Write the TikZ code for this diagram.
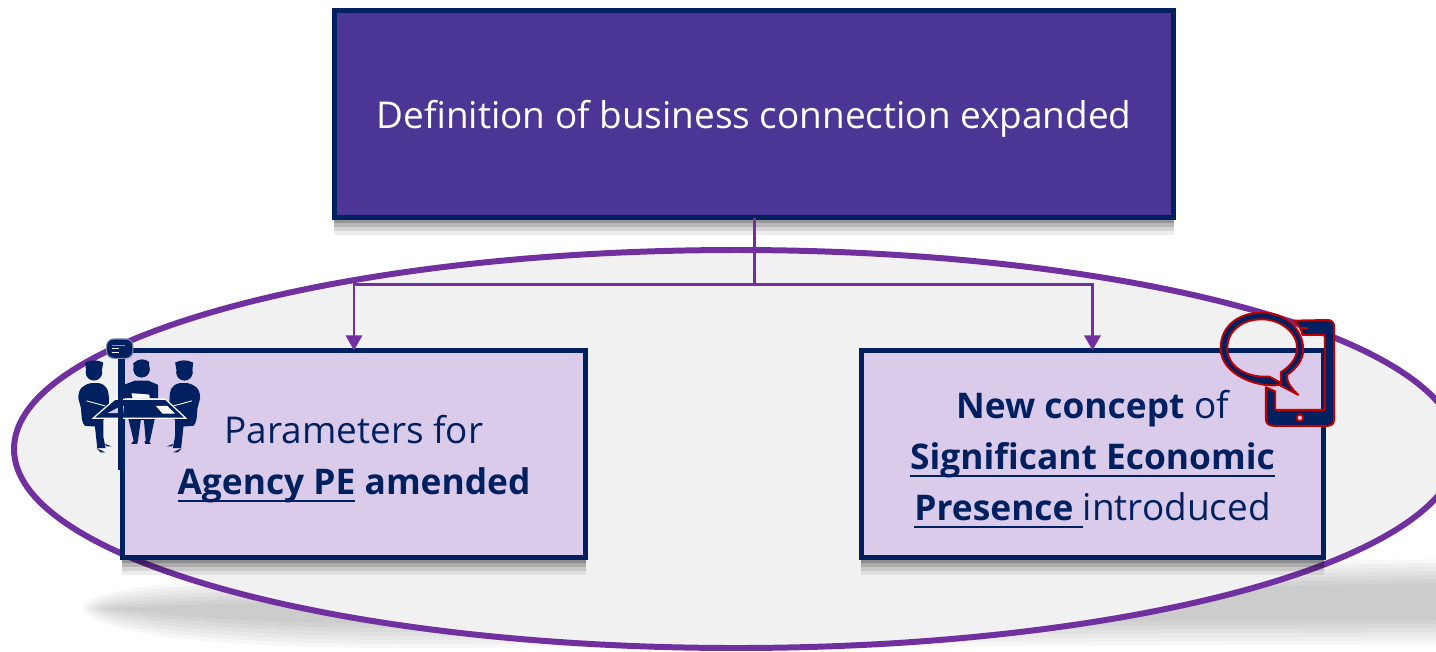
\documentclass[tikz,border=0pt]{standalone}
\usepackage{fontspec}
\setmainfont{Open Sans}
\usepackage{xcolor}
\usetikzlibrary{arrows.meta, shadows, positioning}
\definecolor{navy}{HTML}{002060}
\definecolor{rimpurple}{HTML}{7030A0}
\definecolor{topfill}{HTML}{4B3695}
\definecolor{lilac}{HTML}{DBCBEA}
\definecolor{iconred}{HTML}{C00000}
\definecolor{ovalfill}{HTML}{F1F1F1}
\tikzset{
    softshadow/.style={
        general shadow={fill=black,opacity=.07,shadow yshift=-.17cm},
        general shadow={fill=black,opacity=.10,shadow yshift=-.13cm},
        general shadow={fill=black,opacity=.14,shadow yshift=-.09cm},
        general shadow={fill=black,opacity=.18,shadow yshift=-.05cm}},
    mainbox/.style={draw=navy, line width=1.4pt, outer sep=0pt, align=center, softshadow,
        font=\fontsize{10.5}{14.5}\selectfont},
    linkline/.style={draw=rimpurple, line width=.85pt},
    figure/.style={fill=navy, draw=none}
}
\newcommand{\lowline}[1]{{\sbox0{#1}\rlap{\rule[-2.2pt]{\wd0}{.65pt}}\usebox0}}
\newcommand{\heavy}[1]{{\fontsize{10.05}{14.5}\selectfont\bfseries #1}}
\newcommand{\dropped}[1]{\raisebox{-1.4pt}[\height][\depth]{#1}}
\newcommand{\sidesitter}{
    \fill[figure] (102,157) circle (25);
    \fill[figure] (76,128) .. controls (95,118) and (115,120) .. (130,128) -- (126,150) -- (78,150) -- cycle;
    \fill[figure] (55,235) .. controls (55,205) and (70,195) .. (92,190) -- (118,190)
        .. controls (140,195) and (147,210) .. (147,240) -- (147,290) -- (130,300) -- (130,350) -- (137,385)
        -- (112,385) -- (105,320) -- (75,318) .. controls (65,310) and (65,290) .. (63,265) -- cycle;
    \fill[figure] (110,385) -- (137,398) -- (122,398) -- cycle;
    \fill[figure] (135,372) -- (156,380) -- (140,380) -- cycle;
    \draw[white, line width=.25pt] (80,243) -- (135,258);
}
\begin{document}
\begin{tikzpicture}[x=0.01cm, y=-0.01cm]
    \clip (0,0) rectangle (1436,651);
    % shadow under the oval
    \foreach \g in {0,4,8,12,16,20,24} {
        \fill[black, opacity=.032] (82+\g,608) .. controls (90+\g,585+\g) and (200,578+\g) .. (400,576+\g)
            -- (1500,558+\g) -- (1500,644-\g) -- (400,648-\g) .. controls (200,648-\g) and (90+\g,632-\g) .. (82+\g,608) -- cycle;
    }
    \draw[draw=rimpurple, fill=ovalfill, line width=1.7pt] (736,449) ellipse (722 and 199);

    \node[mainbox, fill=topfill, text=white, minimum width=8.39cm, minimum height=2.07cm] (defbox) at (754, 114) {\dropped{Definition of business connection expanded}};
    \node[mainbox, fill=lilac, text=navy, minimum width=4.63cm, minimum height=2.07cm] (agencybox) at (354, 454) {\dropped{\begin{tabular}{@{}c@{}}Parameters for\\\heavy{\lowline{Agency PE} amended}\end{tabular}}};
    \node[mainbox, fill=lilac, text=navy, minimum width=4.62cm, minimum height=2.07cm] (secbox) at (1092.5, 454) {\dropped{\begin{tabular}{@{}c@{}}\heavy{New concept} of\\\heavy{\lowline{Significant Economic}}\\\heavy{\lowline{Presence }}introduced\end{tabular}}};

    \coordinate (split) at (754, 284);
    \draw[linkline] (defbox.south) -- (split);
    \draw[linkline, -{Stealth[length=.15cm, width=.16cm, inset=0pt]}] (split) -| (agencybox.north);
    \draw[linkline, -{Stealth[length=.15cm, width=.16cm, inset=0pt]}] (split) -| (secbox.north);

    % people at the table
    \begin{scope}[shift={(60,320)}, x=0.003333cm, y=-0.003333cm]
        \sidesitter
        \begin{scope}[shift={(476,0)}, xscale=-1]
            \sidesitter
        \end{scope}
        \fill[figure] (245,148) circle (25);
        \fill[figure] (220,130) .. controls (235,115) and (255,115) .. (268,126) -- (268,145) -- (222,145) -- cycle;
        \fill[figure] (190,235) -- (192,195) -- (225,182) -- (265,182) -- (295,195) -- (295,235) -- cycle;
        \fill[figure] (205,295) -- (222,365) -- (234,365) -- (243,300) -- (252,300) -- (258,365) -- (270,365) -- (285,295) -- cycle;
        \fill[figure] (214,372) -- (222,362) -- (234,364) -- (232,372) -- cycle;
        \fill[figure] (254,364) -- (266,362) -- (273,372) -- (256,372) -- cycle;
        \draw[figure, draw=white, line width=.35pt] (100,295) -- (165,238) -- (317,238) -- (378,295) -- cycle;
        \fill[lilac] (142,280) -- (185,258) -- (192,258) -- (190,280) -- cycle;
        \fill[white] (288,258) -- (322,258) -- (345,281) -- (308,281) -- cycle;
        \fill[white] (215,220) -- (268,224) -- (270,236) -- (218,236) -- cycle;
        \draw[navy, line width=1.4pt] (183,100) -- (183,450);
        \draw[fill=navy, draw=lilac!60!navy, line width=.3pt, rounded corners=.07cm] (140,57) rectangle (219,115);
        \draw[rimpurple!60, line width=.35pt] (155,76) -- (196,76);
        \draw[white, line width=.35pt] (155,86) -- (178,86) (155,97) -- (178,97);
    \end{scope}

    % phone and speech bubble
    \begin{scope}[shift={(1200,300)}, x=0.003333cm, y=-0.003333cm]
        \draw[fill=navy, draw=iconred, line width=.55pt, line join=round] (280,62) -- (383,60) .. controls (396,60) and (403,68) .. (403,80)
            -- (403,358) .. controls (403,371) and (396,378) .. (383,378) -- (220,378) .. controls (206,378) and (198,370) .. (198,358)
            -- (198,262) -- (226,275) -- (226,330) -- (375,330) -- (375,105) -- (308,105) .. controls (306,90) and (298,75) .. (280,62) -- cycle;
        \draw[iconred, line width=.55pt] (300,85) -- (325,85);
        \draw[fill=lilac, draw=iconred, line width=.55pt] (300,354) circle (10);
        \draw[fill=navy, even odd rule, draw=iconred, line width=.55pt, line join=round]
            (295,285) -- (238,255) .. controls (175,265) and (62,225) .. (62,145) .. controls (62,75) and (120,38) .. (185,38)
            .. controls (255,38) and (310,85) .. (310,150) .. controls (310,180) and (290,205) .. (262,225) .. controls (258,245) and (275,265) .. (295,285) -- cycle
            (245,250) -- (208,230) .. controls (140,235) and (82,200) .. (82,145) .. controls (82,90) and (130,58) .. (185,58)
            .. controls (245,58) and (292,100) .. (292,145) .. controls (292,175) and (270,200) .. (243,217) .. controls (243,228) and (243,240) .. (245,250) -- cycle;
    \end{scope}
\end{tikzpicture}
\end{document}
